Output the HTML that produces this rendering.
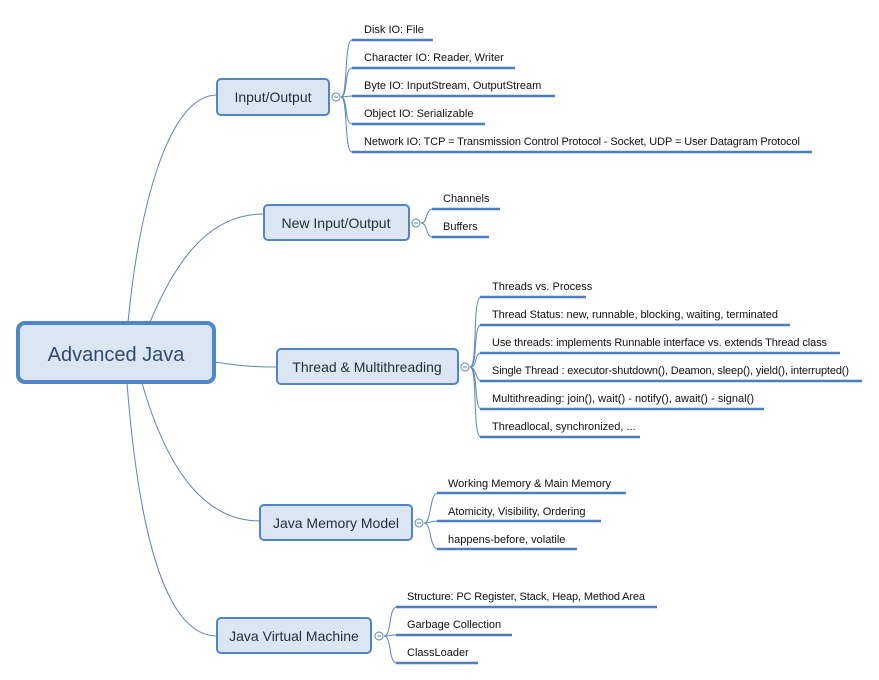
<!DOCTYPE html>
<html><head><meta charset="utf-8"><style>
html,body{margin:0;padding:0;background:#fff;}
svg{display:block;font-family:"Liberation Sans",sans-serif;}
.m{fill:#dce6f2;stroke:#4f86c9;stroke-width:2;}
.mt{font-size:14px;fill:#1f2d3d;text-anchor:middle;}
.l{font-size:11px;fill:#111;}
.u{stroke:#4a7fc1;stroke-width:2.6;}
.c{fill:none;stroke:#5b86bd;stroke-width:1;}
.o{fill:#fff;stroke:#5b86bd;stroke-width:1;}
</style></head><body>
<svg width="879" height="680" viewBox="0 0 879 680">
<path class="c" d="M128,322 C140,200 170,95 217,95"/>
<path class="c" d="M150,322 C180,250 215,214 264,214"/>
<path class="c" d="M215,362 C240,366 255,367 277,367"/>
<path class="c" d="M142,383 C170,480 210,521 260,521"/>
<path class="c" d="M127,383 C140,550 170,636 217,636"/>

<rect x="18" y="323" width="196" height="59" rx="7" fill="#dce6f2" stroke="#4f86c9" stroke-width="4"/>
<text x="116" y="361" font-size="20" fill="#2f4a73" text-anchor="middle">Advanced Java</text>

<rect class="m" x="217" y="79" width="112" height="36" rx="4"/>
<text class="mt" x="273" y="102">Input/Output</text>
<g class="c">
<path d="M341,97 C348,97 344,40 352,40"/>
<path d="M341,97 C348,97 344,68 352,68"/>
<path d="M341,97 L352,96"/>
<path d="M341,97 C348,97 344,124 352,124"/>
<path d="M341,97 C348,97 344,152 352,152"/>
</g>
<circle class="o" cx="336" cy="97" r="4"/><line x1="334" y1="97" x2="338" y2="97" stroke="#5b86bd"/>
<line class="u" x1="352" y1="40" x2="433" y2="40"/>
<line class="u" x1="352" y1="68" x2="515" y2="68"/>
<line class="u" x1="352" y1="96" x2="555" y2="96"/>
<line class="u" x1="352" y1="124" x2="485" y2="124"/>
<line class="u" x1="352" y1="152" x2="812" y2="152"/>
<text class="l" x="364" y="33">Disk IO: File</text>
<text class="l" x="364" y="61">Character IO: Reader, Writer</text>
<text class="l" x="364" y="89">Byte IO: InputStream, OutputStream</text>
<text class="l" x="364" y="117">Object IO: Serializable</text>
<text class="l" x="364" y="145" textLength="436">Network IO: TCP = Transmission Control Protocol - Socket, UDP = User Datagram Protocol</text>

<rect class="m" x="264" y="205" width="145" height="35" rx="4"/>
<text class="mt" x="336" y="228">New Input/Output</text>
<g class="c">
<path d="M421,223 C428,223 425,209 433,209"/>
<path d="M421,223 C428,223 425,237 433,237"/>
</g>
<circle class="o" cx="416" cy="223" r="4"/><line x1="414" y1="223" x2="418" y2="223" stroke="#5b86bd"/>
<line class="u" x1="432" y1="209" x2="500" y2="209"/>
<line class="u" x1="432" y1="237" x2="489" y2="237"/>
<text class="l" x="443" y="202">Channels</text>
<text class="l" x="443" y="230">Buffers</text>

<rect class="m" x="277" y="349" width="181" height="35" rx="4"/>
<text class="mt" x="367" y="372">Thread &amp; Multithreading</text>
<g class="c">
<path d="M470,367 C478,367 472,297 481,297"/>
<path d="M470,367 C478,367 473,325 481,325"/>
<path d="M470,367 C478,367 474,353 481,353"/>
<path d="M470,367 C476,367 476,381 481,381"/>
<path d="M470,367 C478,367 474,409 481,409"/>
<path d="M470,367 C478,367 472,437 481,437"/>
</g>
<circle class="o" cx="465" cy="367" r="4"/><line x1="463" y1="367" x2="467" y2="367" stroke="#5b86bd"/>
<line class="u" x1="480" y1="297" x2="586" y2="297"/>
<line class="u" x1="480" y1="325" x2="790" y2="325"/>
<line class="u" x1="480" y1="353" x2="840" y2="353"/>
<line class="u" x1="480" y1="381" x2="862" y2="381"/>
<line class="u" x1="480" y1="409" x2="764" y2="409"/>
<line class="u" x1="480" y1="437" x2="640" y2="437"/>
<text class="l" x="492" y="290">Threads vs. Process</text>
<text class="l" x="492" y="318" textLength="286">Thread Status: new, runnable, blocking, waiting, terminated</text>
<text class="l" x="492" y="346" textLength="335">Use threads: implements Runnable interface vs. extends Thread class</text>
<text class="l" x="492" y="374" textLength="357">Single Thread : executor-shutdown(), Deamon, sleep(), yield(), interrupted()</text>
<text class="l" x="492" y="402" textLength="262">Multithreading: join(), wait() - notify(), await() - signal()</text>
<text class="l" x="492" y="430">Threadlocal, synchronized, ...</text>

<rect class="m" x="260" y="505" width="152" height="35" rx="4"/>
<text class="mt" x="336" y="528">Java Memory Model</text>
<g class="c">
<path d="M424,523 C432,523 429,493 438,493"/>
<path d="M424,523 C432,523 429,521 438,521"/>
<path d="M424,523 C432,523 429,549 438,549"/>
</g>
<circle class="o" cx="419" cy="523" r="4"/><line x1="417" y1="523" x2="421" y2="523" stroke="#5b86bd"/>
<line class="u" x1="437" y1="493" x2="626" y2="493"/>
<line class="u" x1="437" y1="521" x2="601" y2="521"/>
<line class="u" x1="437" y1="549" x2="577" y2="549"/>
<text class="l" x="448" y="487">Working Memory &amp; Main Memory</text>
<text class="l" x="448" y="515">Atomicity, Visibility, Ordering</text>
<text class="l" x="448" y="543">happens-before, volatile</text>

<rect class="m" x="217" y="618" width="154" height="35" rx="4"/>
<text class="mt" x="294" y="641">Java Virtual Machine</text>
<g class="c">
<path d="M384,636 C392,636 388,607 397,607"/>
<path d="M384,636 C392,636 388,635 397,635"/>
<path d="M384,636 C392,636 388,663 397,663"/>
</g>
<circle class="o" cx="379" cy="636" r="4"/><line x1="377" y1="636" x2="381" y2="636" stroke="#5b86bd"/>
<line class="u" x1="396" y1="607" x2="657" y2="607"/>
<line class="u" x1="396" y1="635" x2="512" y2="635"/>
<line class="u" x1="396" y1="663" x2="478" y2="663"/>
<text class="l" x="407" y="600" textLength="238">Structure: PC Register, Stack, Heap, Method Area</text>
<text class="l" x="407" y="628">Garbage Collection</text>
<text class="l" x="407" y="656">ClassLoader</text>
</svg>
</body></html>
